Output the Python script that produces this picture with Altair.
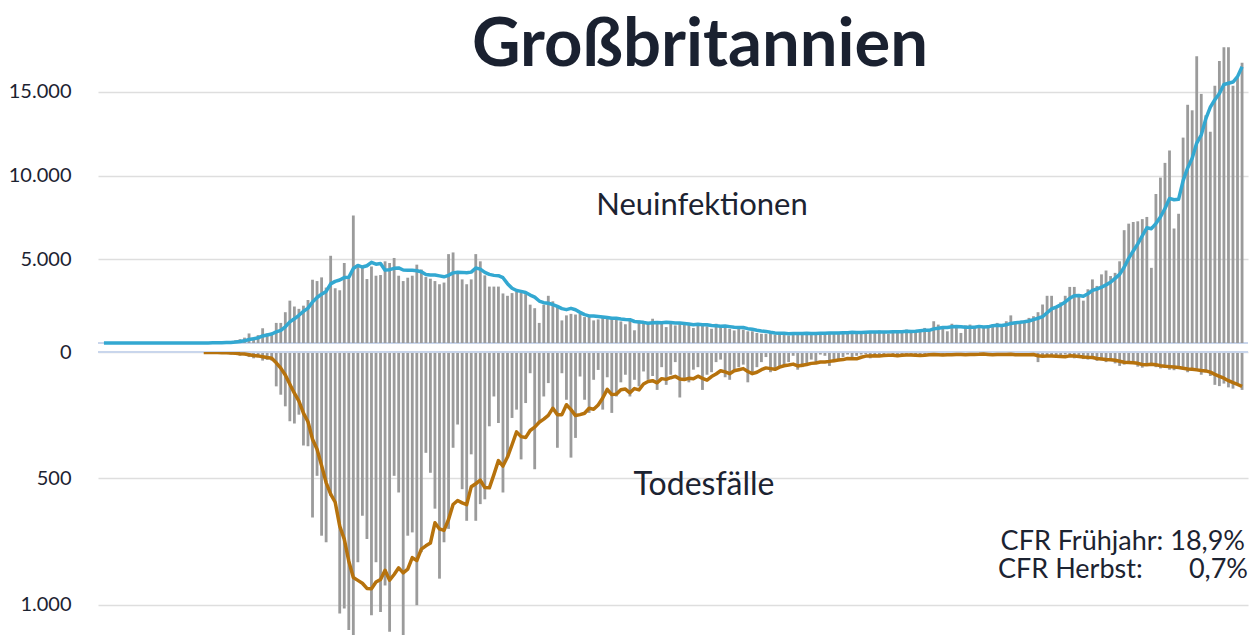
import altair as alt
import pandas as pd

# ---------------- texts ----------------
title_text = ["Großbritannien"]
label_neu = ["Neuinfektionen"]
label_tod = ["Todesfälle"]
cfr_left = ["CFR Frühjahr:", "CFR Herbst:"]
cfr_right = ["18,9%", "0,7%"]

# ---------------- tick values ----------------
top_ticks = [5000, 10000, 15000]
bottom_ticks = [0, 500, 1000]

# ---------------- daily new infections ----------------
neuinfektionen = [
    0, 0, 0, 0, 0, 0, 0, 0, 0, 0,
    0, 2, 0, 1, 0, 0, 3, 1, 2, 5,
    5, 8, 12, 15, 20, 25, 35, 50, 90, 160, 230, 320,
    570, 330, 470, 880, 570, 610, 1200, 1200, 1840, 2530,
    2180, 2040, 2230, 2570, 3780, 3700, 3920, 3310, 5210, 3270,
    3150, 4780, 3820, 7620, 4590, 4530, 3820, 4570, 4020, 4060,
    4880, 4780, 5080, 4020, 3700, 3900, 4020, 4680, 4390, 3940,
    3840, 3700,
    3510, 3610, 5310, 5410, 4190, 3800, 3510, 3800, 5310, 4880,
    4040, 3370, 3370, 3370, 2960, 2820, 2980, 3060, 3020, 2920,
    2290, 2080, 1200, 2290, 2820, 2490, 2140, 1350, 1650, 1740,
    1700, 1740, 1550, 1590, 1350, 1410, 1510, 1510, 1450, 1510,
    1290, 1120, 1350, 760,
    1350, 1250, 1150, 1450, 1300, 1200, 950, 1250,
    1050, 1150, 1250, 1100, 900, 1150, 1050, 1000, 850, 1150,
    950, 1000, 850, 750, 950, 800, 700, 700, 600, 550,
    550, 600, 500, 600, 650, 450, 600, 550, 600, 650, 500, 600, 550, 650, 600,
    600, 650, 600, 650, 700, 550, 650, 700, 700, 600, 750, 700, 550, 700, 750,
    700, 800, 650, 750, 800, 900, 700, 1300,
    1100, 950, 700, 1150, 1000, 600, 1050, 1100, 1000, 1050, 900, 1050,
    1100, 1200, 1000, 1300, 1650, 1150, 1250, 1350, 1500, 1600,
    1840, 2300, 2820, 2820, 2140, 2430, 2820, 3350, 3350, 2920, 2530,
    3210, 3800, 3410, 4100, 4330, 4000, 4190, 4880, 6740, 7130,
    7230, 7270, 7400, 7530, 4490, 8900, 9880, 10760, 11500, 6840, 7720,
    12270, 14230, 13900, 17130, 14880, 13600, 12620, 15370, 16840,
    17660, 17660, 15370, 15860, 16740,
]

# ---------------- daily deaths ----------------
todesfaelle = [None] * 22 + [
    2, 1, 3, 2, 5, 6, 10, 8, 15, 12, 20,
    25, 18, 34, 31, 34, 136, 169, 215, 274, 283,
    248, 370, 373, 655, 490, 727, 753, 569, 596, 1035,
    1015, 1100, 1180, 832, 648, 740, 1042, 832, 1029, 924,
    1107, 490, 556, 1180, 727, 714, 1002, 792, 399, 478,
    620,
    897, 753, 700, 379, 287, 543, 668, 405, 668, 602,
    583, 294, 176, 281, 556, 418, 261, 228, 425, 202,
    84, 464, 281, 176, 123, 228, 379, 84, 189, 418,
    340, 97, 189, 241, 110, 71, 228, 100, 241, 176,
    120, 90, 176, 110, 136, 77, 110, 95,
    150, 60, 130, 90, 40, 180, 110, 120, 70, 60,
    150, 90, 80, 40, 30, 100, 110, 70, 60, 50,
    120, 90, 60, 40, 20, 80, 70, 60, 50, 40, 15, 70,
    60, 50, 30, 40, 10, 15, 55, 40, 30, 20, 10,
    20, 15, 10, 8, 25, 18, 12, 10, 5, 15, 20,
    12, 10, 8, 18, 15, 10, 6, 5, 16, 14, 12,
    10, 6, 4, 14, 12, 10, 8, 3, 15, 12, 10,
    11, 8, 5, 16, 14, 12, 9, 6, 40, 18, 14,
    12, 20, 15, 10, 18, 25, 22, 28, 30, 20, 35, 32,
    40, 28, 45, 55, 50, 38, 40, 58, 62, 48, 45, 60,
    65, 55, 70, 72, 60, 68, 80, 75, 70,
    90, 80, 95, 130, 135, 125, 140, 145, 130, 150,
]

N = len(neuinfektionen)
days = list(range(N))
df = pd.DataFrame({"tag": days, "neu": neuinfektionen, "tod": todesfaelle})

# ---------------- styling ----------------
W = 1150
H_TOP = 335
H_BOT = 283
FONT = "Lato"
TXT = "#1c2331"
BAR = "#9b9b9b"
BLUE = "#33a8d1"
BROWN = "#b6720d"
ZERO = "#c9d6ec"
GRID = "#dedede"

label_expr = "replace(format(datum.value, ','), ',', '.')"

xenc = alt.X("tag:O", axis=None,
             scale=alt.Scale(domain=days, paddingInner=0.38, paddingOuter=1.0))

y_top_scale = alt.Scale(domain=[0, 20012], nice=False, zero=True)
y_bot_scale = alt.Scale(domain=[0, 1120], nice=False, zero=True, reverse=True)


def make_axis(vals):
    return alt.Axis(values=vals, labelExpr=label_expr, title=None, domain=False, ticks=False,
                    grid=True, gridColor=GRID, gridWidth=1.5, labelFont=FONT, labelFontSize=20,
                    labelColor=TXT, labelPadding=27)


def text_layer(txt, size, x, y, align="center", weight="normal", color=TXT):
    return alt.Chart(pd.DataFrame({"t": [txt]})).mark_text(
        font=FONT, fontSize=size, fontWeight=weight, color=color, align=align, baseline="alphabetic"
    ).encode(text="t:N", x=alt.value(x), y=alt.value(y))


base = alt.Chart(df)
zero_df = pd.DataFrame({"z": [0]})

# ----- top panel: new infections -----
top_bars = base.mark_bar(color=BAR).encode(
    x=xenc, y=alt.Y("neu:Q", scale=y_top_scale, axis=make_axis(top_ticks)))
top_zero = alt.Chart(zero_df).mark_rule(color=ZERO, strokeWidth=2).encode(
    y=alt.Y("z:Q", scale=y_top_scale, title=None))
top_line = base.transform_window(
    neu_avg="mean(neu)", frame=[-6, 0], sort=[alt.SortField("tag")]
).mark_line(color=BLUE, strokeWidth=3.5, strokeJoin="round").encode(
    x=xenc, y=alt.Y("neu_avg:Q", scale=y_top_scale, title=None))
title_mark = text_layer(title_text[0], 67, 602, 58, weight="bold", color="#1a2130")
neu_mark = text_layer(label_neu[0], 31, 604, 207)

top = alt.layer(top_zero, top_bars, top_line, title_mark, neu_mark).properties(width=W, height=H_TOP)

# ----- bottom panel: deaths -----
bot_bars = base.mark_bar(color=BAR, clip=True).encode(
    x=xenc, y=alt.Y("tod:Q", scale=y_bot_scale, axis=make_axis(bottom_ticks)))
bot_zero = alt.Chart(zero_df).mark_rule(color=ZERO, strokeWidth=2).encode(
    y=alt.Y("z:Q", scale=y_bot_scale, title=None))
bot_line = base.transform_filter("datum.tod != null").transform_window(
    tod_avg="mean(tod)", frame=[-6, 0], sort=[alt.SortField("tag")]
).mark_line(color=BROWN, strokeWidth=3.5, strokeJoin="round", clip=True).encode(
    x=xenc, y=alt.Y("tod_avg:Q", scale=y_bot_scale, title=None))
tod_mark = text_layer(label_tod[0], 32, 606, 143)

cfr1 = text_layer(cfr_left[0] + " " + cfr_right[0], 27, 1147, 198, align="right")
cfr2a = text_layer(cfr_left[1], 27, 900, 226, align="left")
cfr2b = text_layer(cfr_right[1], 27, 1150, 226, align="right")

bottom = alt.layer(bot_bars, bot_zero, bot_line, tod_mark, cfr1, cfr2a, cfr2b).properties(
    width=W, height=H_BOT)

chart = alt.vconcat(top, bottom, spacing=9, bounds="flush").resolve_scale(y="independent").properties(
    padding=0, background="white"
).configure_view(stroke=None)

chart.save("out.html", embed_options={"renderer": "svg", "actions": False})
